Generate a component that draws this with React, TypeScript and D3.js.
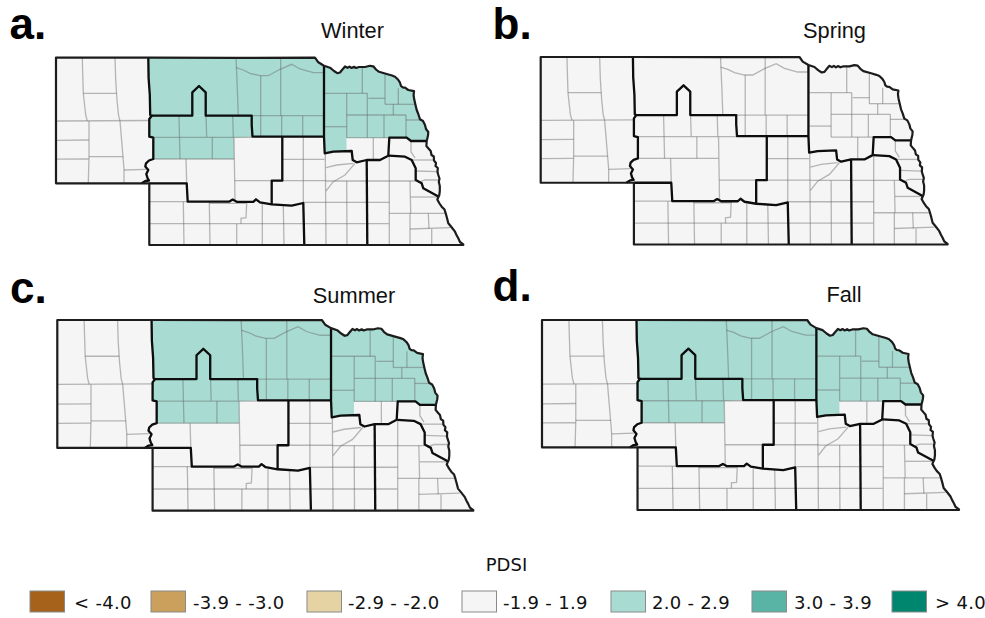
import React from "react";
import * as d3 from "d3";

type Pt = [number, number];

// map geometry below is in a shared "map unit" frame
const stateOutline: Pt[] = [
  [56, 57.7], [148.3, 57.7], [236, 57.9], [315, 57.7], [318.3, 62.3], [324, 65.7], [330, 67.7], [334, 71], [337.3, 73.2],
  [340, 72.5], [342, 70], [345, 66.5], [347.5, 67.8], [349.5, 66.6], [351.5, 68], [354, 66.8], [356, 68], [359, 67],
  [365, 67], [370, 65.8], [373.3, 66.3], [376, 69.5], [379, 71.8], [386.7, 74], [392, 75.5], [395, 76.7], [398, 79.5],
  [400, 82.7], [401, 86], [402.7, 87.3], [405, 87.6], [408.3, 90], [414, 91.2], [413.6, 95], [414.2, 99.3], [415.5, 105],
  [416.7, 110], [418.3, 114], [420, 119.3], [423, 121], [425, 125], [426, 129], [428.3, 132], [428, 135.5], [426.7, 141],
  [426.4, 146], [428.5, 148.5], [430.7, 151], [431.5, 155], [433.8, 156.5], [434, 160.5], [436, 163], [435.5, 166],
  [437.8, 168], [437.5, 172], [438.3, 175], [439.5, 178.5], [438.8, 182], [439.8, 186], [439.8, 191], [439.3, 195],
  [437.3, 199.5], [439.5, 203.5], [441.7, 206.7], [444.5, 209.5], [445.7, 213.3], [447, 218], [448.3, 223.3], [451, 226.5],
  [455, 231.7], [456.5, 235], [458.3, 238.3], [460, 242], [463.3, 244.5], [463.3, 245], [304.3, 245], [149.3, 245],
  [149.3, 183.3], [56, 183.3],
];
const neCornerIndex = stateOutline.findIndex((p) => p[0] === 426.7 && p[1] === 141);

const panhandleEdge: Pt[] = [
  [148.3, 57.7], [148.6, 78], [149.8, 95], [150.2, 115], [151.7, 115.7], [149.3, 119], [149.3, 136.7], [153.3, 137.7],
  [153.3, 159], [149, 160.5], [146, 163.3], [145.3, 166.5], [148.3, 170], [146.3, 174], [147.5, 178], [149, 180.5],
  [145.5, 181], [141.7, 183.3],
];
const northDivisionEdge: Pt[] = [
  [151.7, 115.7], [192.3, 115.7], [192.3, 92.3], [199, 86], [205.7, 92.3], [205.7, 115.7], [251.7, 115.7], [251.7, 125],
  [252.5, 136.7], [324, 136.7],
];
const northeastEdge: Pt[] = [
  [324, 65.7], [324, 136.7], [324.7, 153.3], [333.3, 151.7], [351.7, 151], [352.7, 160], [356.7, 162.3], [366.7, 160],
  [380, 160], [388.3, 155.7], [389.3, 137.7], [406.7, 137.7], [411, 141], [426.7, 141],
];
const southCentralEdge: Pt[] = [[366.7, 160], [367.3, 245]];
const southeastEdge: Pt[] = [
  [389, 155.7], [405, 156.7], [411.7, 160], [415.7, 168.3], [415.7, 180], [421.7, 183.3], [423.3, 188.3], [438.8, 196.7],
];
const southwestEdge: Pt[] = [
  [149.3, 183.3], [186.7, 183.3], [187.7, 201.7], [229, 201.7], [232.7, 199.6], [236.7, 201.8], [253.3, 201.8], [256, 199.3],
  [260, 202.3], [271.7, 204.3], [291.7, 205.6], [303.3, 203], [304.3, 245],
];
const centralEdge: Pt[] = [[271.7, 204.3], [271.7, 180.7], [282.3, 180.7], [282.3, 136.7]];
const divisionEdges = [panhandleEdge, northDivisionEdge, northeastEdge, southCentralEdge, southeastEdge, southwestEdge, centralEdge];

const northDivision: Pt[] = [
  [148.3, 57.7], [315, 57.7], [318.3, 62.3], [324, 65.7], [324, 136.7], [252.5, 136.7], [251.7, 115.7], [151.7, 115.7],
  [150.2, 115], [149.8, 95], [148.6, 78],
];
const northCentralDivision: Pt[] = [
  [150, 115.7], [251.7, 115.7], [252.5, 136.7], [234, 137.5], [234, 159], [153.3, 159], [153.3, 137.7], [149.3, 136.7], [149.3, 119],
];
const northeastDivision: Pt[] = [
  ...stateOutline.slice(5, neCornerIndex + 1), [411, 141], [406.7, 137.7], [346.5, 137.7], [346.5, 151.3], [333.3, 151.7], [324.7, 153.3],
];

const countyLines: Pt[][] = [
  // panhandle
  [[82.3, 57.7], [82.6, 70], [83.3, 93.3], [85.7, 115], [87.3, 121]],
  [[115, 57.7], [115.7, 80], [117, 100], [118.5, 115], [120, 121], [121.6, 140], [124, 169], [124, 182.5]],
  [[83.3, 93.3], [116.7, 93.3]],
  [[56, 121], [150, 120.5]],
  [[56, 140.3], [89, 140]],
  [[56, 159.2], [88.7, 159]],
  [[89, 121], [89, 156.7], [88.3, 183]],
  [[89, 156.7], [123.3, 156.7]],
  [[124, 170], [146, 169.3]],
  // north central
  [[179, 116], [180, 159]],
  [[206, 115.7], [206.7, 137]],
  [[232.7, 115.7], [233.3, 137]],
  [[150, 137.3], [251.7, 137.3]],
  [[212.3, 137.3], [212.3, 159]],
  [[153.3, 159], [234, 159]],
  [[234, 137.5], [234.7, 180.7], [235, 201.7]],
  [[234.7, 180.7], [282, 180.7]],
  [[186, 159], [186.7, 183.3]],
  [[236, 57.7], [237.3, 88], [238.3, 115.7]],
  [[236, 67.7], [243.3, 70], [250, 73.3], [260, 75.7], [268.3, 75.7], [280, 69.3], [291.7, 64.3], [300, 69], [313.3, 72.7], [324, 72.7]],
  [[260.7, 75.7], [260.7, 115.7]],
  [[280.7, 57.7], [280.7, 115.7]],
  [[238.3, 115.7], [324, 115.7]],
  [[260.7, 115.7], [260.7, 137]],
  [[281.7, 115.7], [281.7, 137]],
  [[302.7, 115.7], [302.7, 137]],
  // central and south
  [[303.3, 137], [303.3, 203]],
  [[282.3, 159.3], [324.5, 159.3]],
  [[282.3, 180.7], [326, 180.7]],
  [[325.3, 153.3], [326, 245]],
  [[304.3, 202.3], [389.3, 202.3]],
  [[150, 223.7], [388.8, 223.7]],
  [[262.3, 204], [262.3, 245]],
  [[283.3, 205], [284, 245]],
  [[326, 181], [415.7, 181]],
  [[346.7, 181], [347, 245]],
  [[326, 167.7], [336.7, 165], [353.3, 163.3]],
  [[326, 191], [333.3, 181.7], [345, 175], [355, 163.3]],
  [[373.3, 137.7], [373.3, 159]],
  [[389.3, 156], [389.3, 245]],
  [[410, 181], [410.7, 213.3]],
  [[410.7, 197], [438, 197]],
  [[389.3, 213.3], [428.3, 213.3], [446.5, 213.3]],
  [[410, 213.3], [410, 245]],
  [[428.3, 213.3], [429, 229]],
  [[410, 229], [450, 227.7]],
  [[431.7, 229], [431.7, 245]],
  [[411, 141], [411, 151.7], [415, 158]],
  [[411.7, 160], [434, 160]],
  [[415.7, 171], [437.5, 171.7]],
  [[418.3, 182.3], [425, 180], [438.5, 180]],
  // southwest
  [[150, 201.7], [187.7, 201.7]],
  [[183.3, 201.7], [184, 245]],
  [[209.3, 202], [210, 245]],
  [[209.3, 203.3], [246.7, 203.3], [246, 217.7], [241, 218.3], [241, 223.7]],
  [[236.7, 223.7], [236.7, 245]],
  // northeast
  [[362.3, 67.5], [362.3, 93.3]],
  [[325, 93.3], [367.3, 93.3]],
  [[385, 74.5], [385, 104.3]],
  [[367.3, 93.3], [367.3, 115]],
  [[368.3, 98.3], [385, 98.3]],
  [[346.7, 93.3], [346.7, 137.7]],
  [[346.7, 115], [406, 115]],
  [[385, 104.3], [415, 104.3]],
  [[398.3, 88.3], [398.3, 104.3]],
  [[393.3, 104.3], [393.3, 115]],
  [[406, 115], [406, 137.7]],
  [[406, 120], [421, 120]],
  [[367.3, 115], [367.3, 137.7]],
  [[384, 115], [384, 137.7]],
  [[325, 126.7], [346.7, 126.7]],
  [[346.7, 137.7], [389.3, 137.7]],
];

const seasons = ["Winter", "Spring", "Summer", "Fall"];
const panelLetters = ["a.", "b.", "c.", "d."];
const wetDivisionsBySeason = [
  [northDivision, northCentralDivision, northeastDivision],
  [],
  [northDivision, northCentralDivision, northeastDivision],
  [northDivision, northCentralDivision, northeastDivision],
];

const pdsiLabels = ["< -4.0", "-3.9 - -3.0", "-2.9 - -2.0", "-1.9 - 1.9", "2.0 - 2.9", "3.0 - 3.9", "> 4.0"];
const pdsiColors = ["#a6611a", "#cba05c", "#e6d3a3", "#f5f5f5", "#a8dcd2", "#5ab4a6", "#00866e"];

const panelFrames = [
  { x: [56, 463.3], y: [57.7, 245], title: [352.5, 38], letter: [9.5, 39] },
  { x: [540.7, 947.6], y: [57, 244.5], title: [834.5, 38], letter: [492.5, 38.5] },
  { x: [57.3, 473.3], y: [320, 510.7], title: [354, 302.5], letter: [10, 302.5] },
  { x: [542, 959], y: [320, 510], title: [844, 302], letter: [492.5, 301] },
];
const legendSwatchX = [30, 151, 307, 462, 611, 752, 892];
const legendTextX = [74, 193, 348, 503, 652, 794, 935];

const sansFont = "'Liberation Sans', Arial, sans-serif";
const legendFont = "'DejaVu Sans', Verdana, sans-serif";

function MapPanel({ index }: { index: number }) {
  const frame = panelFrames[index];
  const x = d3.scaleLinear().domain([56, 463.3]).range(frame.x);
  const y = d3.scaleLinear().domain([57.7, 245]).range(frame.y);
  const line = d3.line<Pt>().x((d) => x(d[0])).y((d) => y(d[1]));
  const closed = (pts: Pt[]) => line(pts) + "Z";

  return (
    <g>
      <g filter="url(#soften)">
        <path d={closed(stateOutline)} fill={pdsiColors[3]} />
        {wetDivisionsBySeason[index].map((poly, i) => (
          <path key={i} d={closed(poly)} fill={pdsiColors[4]} />
        ))}
        {countyLines.map((c, i) => (
          <path key={i} d={line(c) ?? ""} fill="none" stroke="#666" strokeOpacity={0.45} strokeWidth={1.3} />
        ))}
        {divisionEdges.map((e, i) => (
          <path key={i} d={line(e) ?? ""} fill="none" stroke="#0a0a0a" strokeWidth={2.3} strokeLinejoin="round" />
        ))}
        <path d={closed(stateOutline)} fill="none" stroke="#1c1c1c" strokeWidth={2.2} strokeLinejoin="round" />
      </g>
      <text x={frame.title[0]} y={frame.title[1]} textAnchor="middle" fontFamily={sansFont} fontSize={21.8} fill="#111">
        {seasons[index]}
      </text>
      <text x={frame.letter[0]} y={frame.letter[1]} fontFamily={sansFont} fontWeight="bold" fontSize={44} fill="#000">
        {panelLetters[index]}
      </text>
    </g>
  );
}

export default function App() {
  return (
    <svg width={985} height={618} style={{ position: "absolute", left: 0, top: 0, background: "#fff" }}>
      <defs>
        <filter id="soften" x="-2%" y="-2%" width="104%" height="104%">
          <feGaussianBlur stdDeviation="0.45" />
        </filter>
      </defs>
      {seasons.map((s, i) => (
        <MapPanel key={s} index={i} />
      ))}
      <text x={506.5} y={571} textAnchor="middle" fontFamily={legendFont} fontSize={18} fill="#111">PDSI</text>
      {pdsiLabels.map((label, i) => (
        <g key={label}>
          <rect x={legendSwatchX[i]} y={591} width={34.5} height={21} fill={pdsiColors[i]} stroke="#8a8a8a" strokeWidth={1} />
          <text x={legendTextX[i]} y={608.5} fontFamily={legendFont} fontSize={18} letterSpacing={0.3} fill="#111">
            {label}
          </text>
        </g>
      ))}
    </svg>
  );
}
